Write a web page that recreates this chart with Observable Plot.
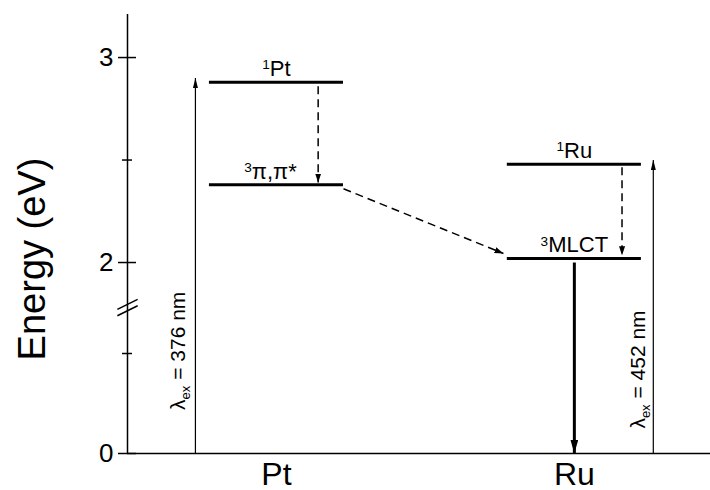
<!DOCTYPE html>
<html>
<head>
<meta charset="utf-8">
<script src="https://cdn.jsdelivr.net/npm/d3@7"></script>
<script src="https://cdn.jsdelivr.net/npm/@observablehq/plot@0.6"></script>
<style>
  body { margin: 0; background: #fff; }
</style>
</head>
<body>
<div id="chart"></div>
<script>
// ---- data ----
const categories = ["Pt", "Ru"];
const categoryPos = [1, 2];

// energy levels (eV)
const levelLabels = ["^{1}Pt", "^{3}π,π*", "^{1}Ru", "^{3}MLCT"];
const levelEnergy = [2.88, 2.38, 2.48, 2.02];
const levelSite = [1, 1, 2, 2];
const levelLabelX = [1.0, 0.98, 2.0, 2.0];

// excitation arrows (solid thin, pointing up)
const excX = [0.728, 2.265];
const excFrom = [0, 0];
const excTo = [2.90, 2.50];
const excLabels = ["λ_{ex} = 376 nm", "λ_{ex} = 452 nm"];
const excLabelX = [0.671, 2.215];
const excLabelY = [1.03, 0.84];

// relaxation / transfer arrows (dashed)
const relX1 = [1.14, 1.225, 2.16];
const relY1 = [2.86, 2.36, 2.465];
const relX2 = [1.14, 1.762, 2.16];
const relY2 = [2.39, 2.044, 2.035];

// emission arrow (thick, pointing down)
const emX = [2.0];
const emFrom = [2.0];
const emTo = [0];

// y axis ticks (broken axis: 0–1 eV compressed, break between 1 and 2)
const majorTicks = [0, 2, 3];
const minorTicks = [1, 2.5];
const breakValues = [1.47, 1.54];
const axisTitle = "Energy (eV)";
// broken-axis mapping: energy -> display units (upper part 1 eV = 2.05 units)
const brk = d3.scaleLinear().domain([0, 1, 2, 3]).range([0, 1, 1.91, 3.96]);

// ---- build tables ----
const levels = levelEnergy.map((e, i) => ({energy: e, site: levelSite[i], label: levelLabels[i], lx: levelLabelX[i]}));
const exc = excX.map((x, i) => ({x, y1: excFrom[i], y2: excTo[i], label: excLabels[i], lx: excLabelX[i], ly: excLabelY[i]}));
const rel = relX1.map((x, i) => ({x1: x, y1: relY1[i], x2: relX2[i], y2: relY2[i]}));
const em = emX.map((x, i) => ({x, y1: emFrom[i], y2: emTo[i]}));

const W = 710, H = 490, mL = 127, mT = 14, mB = 37;
const halfW = 0.225;
const font = "'Liberation Sans', Arial, Helvetica, sans-serif";
const Y = v => brk(v);

const chart = Plot.plot({
  width: W, height: H,
  marginLeft: mL, marginRight: 0, marginTop: mT, marginBottom: mB,
  style: {fontFamily: font, color: "black", background: "white", overflow: "visible"},
  x: {domain: [0.5, 2.457], axis: null},
  y: {domain: [0, brk(3.21)], axis: null},
  marks: [
    // axis lines
    Plot.ruleX([0.5], {strokeWidth: 1.5}),
    Plot.ruleY([0], {strokeWidth: 1.5}),
    // y ticks crossing the axis
    Plot.axisY({ticks: majorTicks.map(Y), tickSize: 18, dx: 9, tickPadding: 5, fontSize: 26,
      tickFormat: d => String(majorTicks[majorTicks.map(Y).indexOf(d)]), strokeWidth: 1.5}),
    Plot.axisY({ticks: minorTicks.map(Y), tickSize: 10, dx: 5, tickFormat: () => "", strokeWidth: 1.5}),
    // x category labels
    Plot.axisX({ticks: categoryPos, tickSize: 0, tickPadding: 9, fontSize: 32,
      tickFormat: d => categories[categoryPos.indexOf(d)]}),
    // axis break marks
    Plot.link(breakValues, {x1: 0.466, x2: 0.534, y1: d => Y(d - 0.055), y2: d => Y(d + 0.055), strokeWidth: 1.5}),
    // energy levels
    Plot.ruleY(levels, {y: d => Y(d.energy), x1: d => d.site - halfW, x2: d => d.site + halfW, strokeWidth: 3}),
    // excitation arrows
    Plot.link(exc, {x1: "x", x2: "x", y1: d => Y(d.y1), y2: d => Y(d.y2), strokeWidth: 1.2}),
    // relaxation / transfer arrows
    Plot.link(rel, {x1: "x1", y1: d => Y(d.y1), x2: "x2", y2: d => Y(d.y2), strokeWidth: 1.5, strokeDasharray: "8,5"}),
    // emission
    Plot.link(em, {x1: "x", x2: "x", y1: d => Y(d.y1), y2: d => Y(d.y2), strokeWidth: 3}),
    // level labels
    Plot.text(levels, {x: "lx", y: d => Y(d.energy), text: "label", lineAnchor: "bottom", dy: -6, fontSize: 22}),
    // excitation labels
    Plot.text(exc, {x: "lx", y: d => Y(d.ly), text: "label", rotate: -90, fontSize: 21}),
    // axis title
    Plot.text([axisTitle], {frameAnchor: "left", textAnchor: "middle", dx: -95, dy: 25, rotate: -90, fontSize: 38})
  ]
});

// ---- post-processing: filled arrowheads and super/subscripts ----
const sel = d3.select(chart);
const defs = sel.insert("defs", ":first-child");
function addMarker(id, len, w) {
  defs.append("marker")
    .attr("id", id)
    .attr("markerUnits", "userSpaceOnUse")
    .attr("viewBox", `${-len} ${-w / 2} ${len} ${w}`)
    .attr("refX", 0).attr("refY", 0)
    .attr("markerWidth", len).attr("markerHeight", w)
    .attr("orient", "auto")
    .append("path")
    .attr("d", `M${-len},${-w / 2}L0,0L${-len},${w / 2}Z`)
    .attr("fill", "black").attr("stroke", "none");
}
addMarker("head-thin", 10, 5);
addMarker("head-dash", 9, 6);
addMarker("head-thick", 14, 8);
const linkGroups = sel.selectAll('g[aria-label="link"]').nodes();
const heads = [null, "head-thin", "head-dash", "head-thick"];
linkGroups.forEach((g, i) => {
  if (heads[i]) d3.select(g).selectAll("path").attr("marker-end", `url(#${heads[i]})`);
});

sel.selectAll("text").each(function () {
  const t = this.textContent;
  if (!/[\^_]\{/.test(t)) return;
  const el = d3.select(this);
  el.text("");
  const re = /([\^_])\{([^}]*)\}/g;
  let last = 0, m, restore = 0;
  while ((m = re.exec(t))) {
    if (m.index > last) {
      el.append("tspan").attr("dy", restore ? `${restore}em` : null).text(t.slice(last, m.index));
      restore = 0;
    }
    const sup = m[1] === "^";
    const shift = sup ? -0.5 : 0.4; // in small-em units
    el.append("tspan").attr("font-size", "0.62em").attr("dy", `${shift}em`).text(m[2]);
    restore = -shift * 0.62;
    last = re.lastIndex;
  }
  if (last < t.length) el.append("tspan").attr("dy", restore ? `${restore}em` : null).text(t.slice(last));
});

document.getElementById("chart").appendChild(chart);
</script>
</body>
</html>
